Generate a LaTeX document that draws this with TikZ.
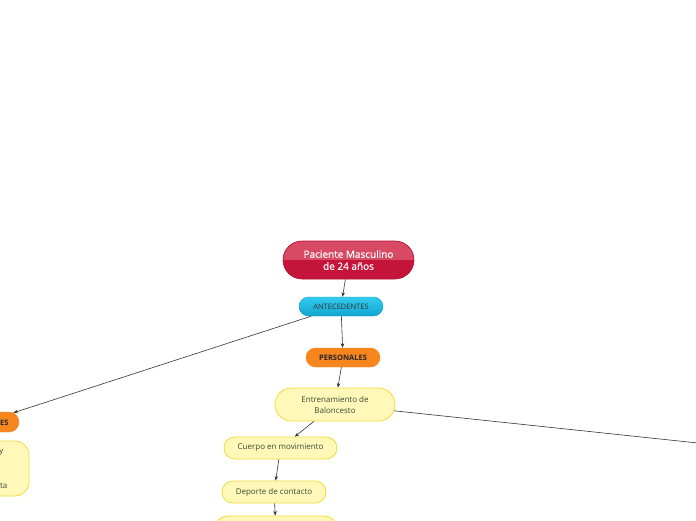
\documentclass[tikz,border=0pt]{standalone}
\usepackage{fontspec}
\setmainfont{Open Sans}
\newfontfamily\semibfont[FakeBold=0.6]{Open Sans}
\usetikzlibrary{arrows.meta,shapes.misc}
\definecolor{rootdark}{HTML}{C5143A}
\definecolor{rootlight}{HTML}{D84A63}
\definecolor{rootline}{HTML}{B80F30}
\definecolor{cyantop}{HTML}{34CBF0}
\definecolor{cyanbot}{HTML}{0FA5D0}
\definecolor{orangefill}{HTML}{F7861E}
\definecolor{yellowfill}{HTML}{FFF8B8}
\definecolor{yellowline}{HTML}{F0DC3A}
\definecolor{greentext}{HTML}{3A4A36}
\definecolor{arrowcol}{HTML}{333333}
\tikzset{
  x=1pt, y=-1pt,
  basebox/.style={rounded rectangle, inner sep=0pt, align=center},
  rootbox/.style={basebox, draw=rootline, line width=0.6pt, fill=rootdark, text=white,
    font=\semibfont\fontsize{10}{12}\selectfont,
    path picture={\fill[rootlight] (path picture bounding box.north west) rectangle (path picture bounding box.east);}},
  cyanbox/.style={basebox, draw=cyanbot, line width=0.4pt, top color=cyantop, bottom color=cyanbot,
    text=black!80, font=\fontsize{7.5}{9}\selectfont},
  orangebox/.style={basebox, draw=orangefill, fill=orangefill, text=black!85,
    font=\fontsize{7.5}{9}\selectfont\bfseries},
  yellowbox/.style={basebox, draw=yellowline, line width=0.8pt, fill=yellowfill, text=greentext,
    font=\fontsize{8}{11}\selectfont},
  yellowrect/.style={rectangle, rounded corners=14pt, draw=yellowline, line width=0.8pt, fill=yellowfill},
  conn/.style={draw=arrowcol, line width=0.6pt, -{Stealth[length=4.5pt,width=3.5pt]}},
  plain/.style={draw=arrowcol, line width=0.6pt}
}
\begin{document}
\begin{tikzpicture}
\useasboundingbox (0,0) rectangle (696,520);
\clip (0,0) rectangle (696,520);
\fill[white] (0,0) rectangle (696,520);

\node[rootbox, minimum width=131pt, minimum height=38pt] (root) at (348.5,260) {Paciente Masculino\\de 24 años};
\node[cyanbox, minimum width=84pt, minimum height=19pt] (ant) at (341,306.5) {ANTECEDENTES};
\node[orangebox, minimum width=74pt, minimum height=19pt] (pers) at (343,357.5) {PERSONALES};
\node[yellowbox, minimum width=120pt, minimum height=33pt] (entr) at (335,404.5) {Entrenamiento de\\Baloncesto};
\node[yellowbox, minimum width=113pt, minimum height=22pt] (cuer) at (280.5,448) {Cuerpo en movimiento};
\node[yellowbox, minimum width=104pt, minimum height=22pt] (dep) at (274,492) {Deporte de contacto};
\node[yellowbox, minimum width=124pt, minimum height=28pt] (bot) at (276,530) {};

\node[orangebox, minimum width=68pt, minimum height=20pt] (lor) at (-15,422) {};
\node[anchor=west, inner sep=0pt, text=black!85, font=\fontsize{7.5}{9}\selectfont\bfseries] (lort) at (0,422.5) {ES};
\node[yellowrect, minimum width=138pt, minimum height=55pt] (lye) at (-40,468.5) {};
\node[anchor=east, inner sep=0pt, text=greentext, font=\fontsize{8}{10}\selectfont] (lyt1) at (3.5,452.5) {y};
\node[anchor=east, inner sep=0pt, text=greentext, font=\fontsize{8}{10}\selectfont] (lyt2) at (7.5,486) {ta};

\coordinate (rightend) at (760,449.6);

\draw[conn] (root) -- (ant);
\draw[conn] (ant) -- (pers);
\draw[conn] (ant) -- (lor);
\draw[conn] (pers) -- (entr);
\draw[conn] (entr) -- (cuer);
\draw[conn] (cuer) -- (dep);
\draw[conn] (dep) -- (bot);
\draw[plain] (entr) -- (rightend);
\end{tikzpicture}
\end{document}
